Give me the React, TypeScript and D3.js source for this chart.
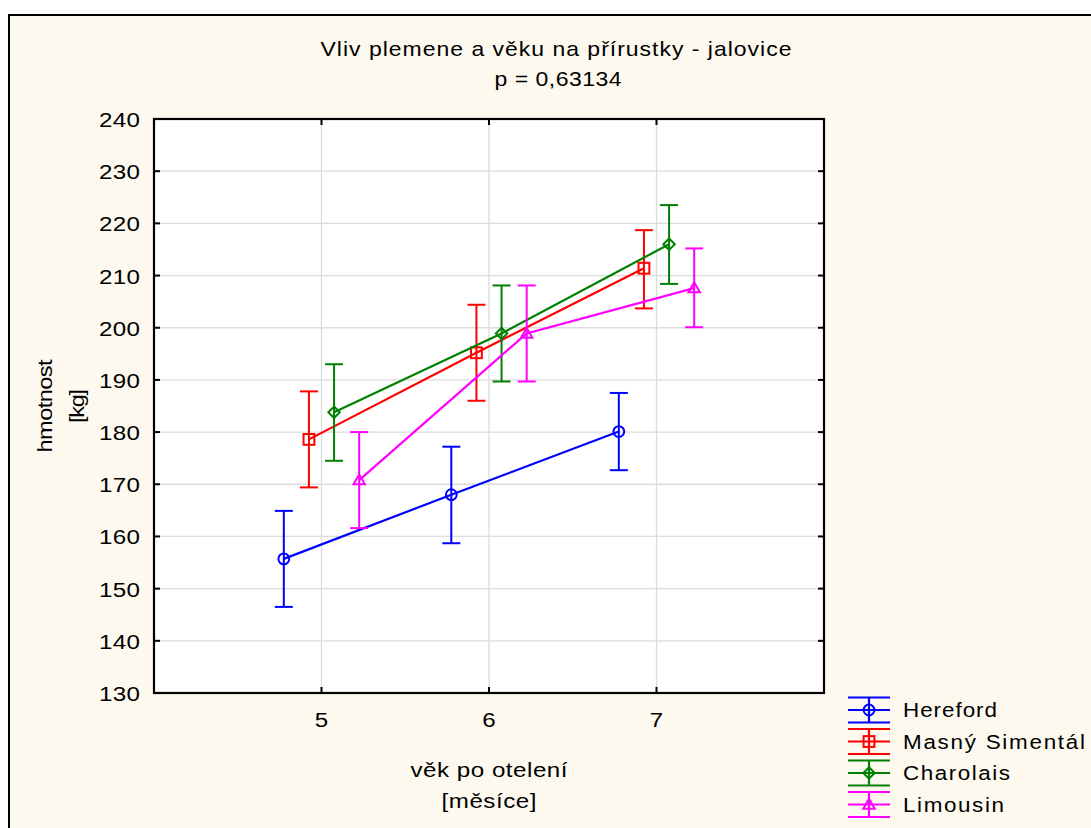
import React from "react";
import * as d3 from "d3";

const ages = [5, 6, 7];
const breeds = ["Hereford", "Masný Simentál", "Charolais", "Limousin"];
const colors = ["#0000ff", "#ff0000", "#008000", "#ff00ff"];
const markers = ["circle", "square", "diamond", "triangle"];
const meanHereford = [155.7, 168.0, 180.1];
const meanSimental = [178.6, 195.2, 211.4];
const meanCharolais = [183.8, 198.9, 216.0];
const meanLimousin = [170.8, 198.9, 207.6];
const lowHereford = [146.5, 158.7, 172.7];
const lowSimental = [169.4, 186.0, 203.7];
const lowCharolais = [174.5, 189.7, 208.4];
const lowLimousin = [161.6, 189.7, 200.1];
const highHereford = [164.9, 177.2, 187.5];
const highSimental = [187.8, 204.4, 218.7];
const highCharolais = [193.0, 208.1, 223.5];
const highLimousin = [180.0, 208.1, 215.2];
const yTicks = [130, 140, 150, 160, 170, 180, 190, 200, 210, 220, 230, 240];
const xTicks = [5, 6, 7];

const means = [meanHereford, meanSimental, meanCharolais, meanLimousin];
const lows = [lowHereford, lowSimental, lowCharolais, lowLimousin];
const highs = [highHereford, highSimental, highCharolais, highLimousin];
const dodge = [-0.225, -0.075, 0.075, 0.225];

const FONT = "'Liberation Sans', Arial, sans-serif";
const SX = 1.15;

function T({
  x, y, size, len, anchor = "start", rot = 0, children,
}: { x: number; y: number; size: number; len?: number; anchor?: string; rot?: number; children: any }) {
  return (
    <g transform={`translate(${x},${y}) rotate(${rot}) scale(${SX},1)`}>
      <text
        x={0}
        y={0}
        fontSize={size}
        textAnchor={anchor}
        fill="#000"
        textLength={len ? len / SX : undefined}
        lengthAdjust={len ? "spacing" : undefined}
      >
        {children}
      </text>
    </g>
  );
}

function Marker({ type, cx, cy, color }: { type: string; cx: number; cy: number; color: string }) {
  const s = 5.4;
  if (type === "circle") return <circle cx={cx} cy={cy} r={5.4} fill="none" stroke={color} strokeWidth={2} />;
  if (type === "square")
    return <rect x={cx - s} y={cy - s} width={2 * s} height={2 * s} fill="none" stroke={color} strokeWidth={2} />;
  if (type === "diamond")
    return (
      <path d={`M${cx},${cy - 5.7}L${cx + 5.7},${cy}L${cx},${cy + 5.7}L${cx - 5.7},${cy}Z`} fill="none" stroke={color} strokeWidth={2} />
    );
  return (
    <path d={`M${cx},${cy - 5.7}L${cx + 5.7},${cy + 4.2}L${cx - 5.7},${cy + 4.2}Z`} fill="none" stroke={color} strokeWidth={2} />
  );
}

export default function App() {
  const W = 1091, H = 828;
  const x = d3.scaleLinear().domain([4, 8]).range([154, 824]);
  const y = d3.scaleLinear().domain([130, 240]).range([693, 119]);
  const [x0, x1] = x.range();
  const [y0, y1] = y.range();
  const line = d3.line<[number, number]>().x((d) => d[0]).y((d) => d[1]);
  const tick = 6;
  const cap = 9;
  const legendLens = [94, 182, 107, 101];

  return (
    <svg width={W} height={H} style={{ position: "absolute", left: 0, top: 0, display: "block" }} fontFamily={FONT}>
      <rect x={0} y={0} width={W} height={H} fill="#ffffff" />
      <rect x={9} y={15} width={W + 20} height={H + 20} fill="#fdf9ef" stroke="#000" strokeWidth={2} />

      {/* title */}
      <T x={556} y={56} size={20} len={471} anchor="middle">Vliv plemene a věku na přírustky - jalovice</T>
      <T x={558} y={86} size={20} len={127} anchor="middle">p = 0,63134</T>

      {/* plot area */}
      <rect x={x0} y={y1} width={x1 - x0} height={y0 - y1} fill="#ffffff" />
      {yTicks.map((t) => (
        <line key={"gy" + t} x1={x0} x2={x1} y1={y(t)} y2={y(t)} stroke="#dcdcdc" strokeWidth={1.3} />
      ))}
      {xTicks.map((t) => (
        <line key={"gx" + t} x1={x(t)} x2={x(t)} y1={y0} y2={y1} stroke="#dcdcdc" strokeWidth={1.3} />
      ))}

      {/* series */}
      {breeds.map((b, i) => {
        const pts: [number, number][] = ages.map((a, j) => [x(a + dodge[i]), y(means[i][j])]);
        return (
          <g key={b}>
            {ages.map((a, j) => {
              const cx = x(a + dodge[i]);
              return (
                <g key={j} stroke={colors[i]} strokeWidth={2}>
                  <line x1={cx} x2={cx} y1={y(lows[i][j])} y2={y(highs[i][j])} />
                  <line x1={cx - cap} x2={cx + cap} y1={y(lows[i][j])} y2={y(lows[i][j])} />
                  <line x1={cx - cap} x2={cx + cap} y1={y(highs[i][j])} y2={y(highs[i][j])} />
                </g>
              );
            })}
            <path d={line(pts) || ""} fill="none" stroke={colors[i]} strokeWidth={2.2} />
            {pts.map((p, j) => (
              <Marker key={"m" + j} type={markers[i]} cx={p[0]} cy={p[1]} color={colors[i]} />
            ))}
          </g>
        );
      })}

      {/* frame and ticks */}
      <rect x={x0} y={y1} width={x1 - x0} height={y0 - y1} fill="none" stroke="#000" strokeWidth={2.2} />
      {yTicks.map((t) => (
        <g key={"ty" + t} stroke="#000" strokeWidth={2}>
          <line x1={x0} x2={x0 + tick} y1={y(t)} y2={y(t)} />
          <line x1={x1} x2={x1 - tick} y1={y(t)} y2={y(t)} />
        </g>
      ))}
      {xTicks.map((t) => (
        <g key={"tx" + t} stroke="#000" strokeWidth={2}>
          <line x1={x(t)} x2={x(t)} y1={y0} y2={y0 - tick} />
          <line x1={x(t)} x2={x(t)} y1={y1} y2={y1 + tick} />
        </g>
      ))}

      {/* tick labels */}
      {yTicks.map((t) => (
        <T key={"ly" + t} x={140} y={y(t) + 8} size={21} len={41} anchor="end">{String(t)}</T>
      ))}
      {xTicks.map((t) => (
        <T key={"lx" + t} x={x(t)} y={727} size={21} anchor="middle">{String(t)}</T>
      ))}

      {/* axis titles */}
      <T x={489} y={777} size={21} len={157} anchor="middle">věk po otelení</T>
      <T x={489} y={808} size={21} len={95} anchor="middle">[měsíce]</T>
      <T x={52} y={(y0 + y1) / 2} size={20.5} len={93} anchor="middle" rot={-90}>hmotnost</T>
      <T x={84} y={(y0 + y1) / 2} size={20.5} len={34} anchor="middle" rot={-90}>[kg]</T>

      {/* legend */}
      {breeds.map((b, i) => {
        const cy = 710 + i * 31.5;
        const lx0 = 848, lx1 = 890, mx = 869;
        return (
          <g key={"lg" + b}>
            <g stroke={colors[i]} strokeWidth={2.2}>
              <line x1={lx0} x2={lx1} y1={cy} y2={cy} />
              <line x1={lx0} x2={lx1} y1={cy - 12.5} y2={cy - 12.5} />
              <line x1={lx0} x2={lx1} y1={cy + 12.5} y2={cy + 12.5} />
              <line x1={mx} x2={mx} y1={cy - 12.5} y2={cy + 12.5} />
            </g>
            <Marker type={markers[i]} cx={mx} cy={cy} color={colors[i]} />
            <T x={903} y={cy + 7} size={19.5} len={legendLens[i]}>{b}</T>
          </g>
        );
      })}
    </svg>
  );
}
